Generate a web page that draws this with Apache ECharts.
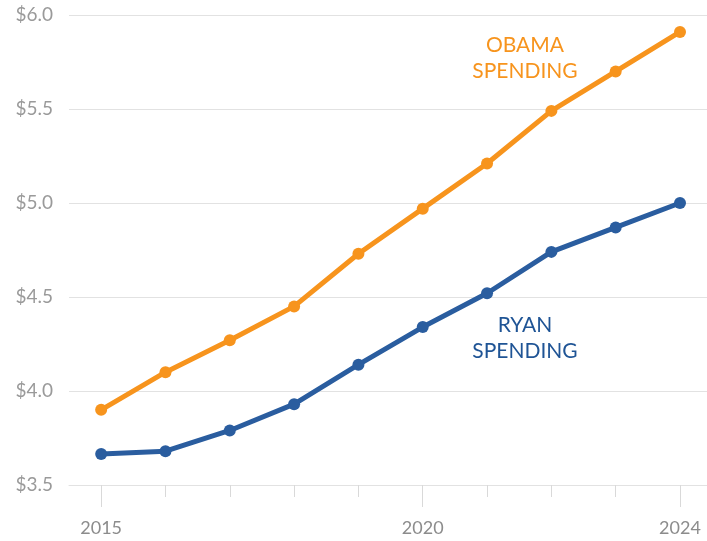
<!DOCTYPE html>
<html>
<head>
<meta charset="utf-8">
<script src="https://cdn.jsdelivr.net/npm/echarts@6/dist/echarts.min.js"></script>
<style>
  html, body { margin: 0; padding: 0; background: #fff; }
  #chart { width: 707px; height: 541px; }
</style>
</head>
<body>
<div id="chart"></div>
<script>
// Federal spending projections, trillions of dollars
const years = [2015, 2016, 2017, 2018, 2019, 2020, 2021, 2022, 2023, 2024];
const obamaSpending = [3.90, 4.10, 4.27, 4.45, 4.73, 4.97, 5.21, 5.49, 5.70, 5.91];
const ryanSpending = [3.665, 3.68, 3.79, 3.93, 4.14, 4.34, 4.52, 4.74, 4.87, 5.00];
const yearLabels = [2015, 2020, 2024];

const ORANGE = '#f7941d';
const BLUE = '#2a5d9f';
const FONT = 'Lato, "Open Sans", sans-serif';

const chart = echarts.init(document.getElementById('chart'), null, { renderer: 'canvas' });

const xBase = {
  type: 'value',
  min: 2014.5,
  max: 2024.42,
  position: 'bottom',
  splitLine: { show: false },
  axisLine: { show: false }
};

chart.setOption({
  animation: false,
  grid: { left: 69, right: 0, top: 15, bottom: 56, containLabel: false },
  xAxis: [
    Object.assign({}, xBase, {
      axisLine: { show: true, lineStyle: { color: '#e2e2e2', width: 1 } },
      axisTick: { show: true, length: 22, lineStyle: { color: '#d9d9d9' }, customValues: yearLabels },
      axisLabel: { show: true, customValues: yearLabels, margin: 34, color: '#8c8c8c', fontSize: 18, fontFamily: FONT, formatter: v => String(v) }
    }),
    Object.assign({}, xBase, {
      axisTick: { show: true, length: 12, lineStyle: { color: '#d9d9d9' }, customValues: years },
      axisLabel: { show: false }
    })
  ],
  yAxis: {
    type: 'value',
    min: 3.5,
    max: 6.0,
    interval: 0.5,
    axisLine: { show: false },
    axisTick: { show: false },
    splitLine: { show: true, lineStyle: { color: '#e2e2e2', width: 1 } },
    axisLabel: {
      color: '#9a9a9a', fontSize: 19, fontFamily: FONT, margin: 16,
      formatter: v => '$' + v.toFixed(1)
    }
  },
  series: [
    {
      name: 'Obama spending',
      type: 'line',
      xAxisIndex: 0,
      data: years.map((y, i) => [y, obamaSpending[i]]),
      lineStyle: { color: ORANGE, width: 5 },
      itemStyle: { color: ORANGE },
      symbol: 'circle',
      symbolSize: 12,
      z: 3
    },
    {
      name: 'Ryan spending',
      type: 'line',
      xAxisIndex: 0,
      data: years.map((y, i) => [y, ryanSpending[i]]),
      lineStyle: { color: BLUE, width: 5 },
      itemStyle: { color: BLUE },
      symbol: 'circle',
      symbolSize: 12,
      z: 3
    }
  ],
  graphic: [
    {
      type: 'text', x: 525, y: 32,
      style: { text: 'OBAMA\nSPENDING', fill: ORANGE, font: '21px ' + FONT, align: 'center', lineHeight: 26 }
    },
    {
      type: 'text', x: 525, y: 312,
      style: { text: 'RYAN\nSPENDING', fill: '#1f5495', font: '21px ' + FONT, align: 'center', lineHeight: 26 }
    }
  ]
});
</script>
</body>
</html>
